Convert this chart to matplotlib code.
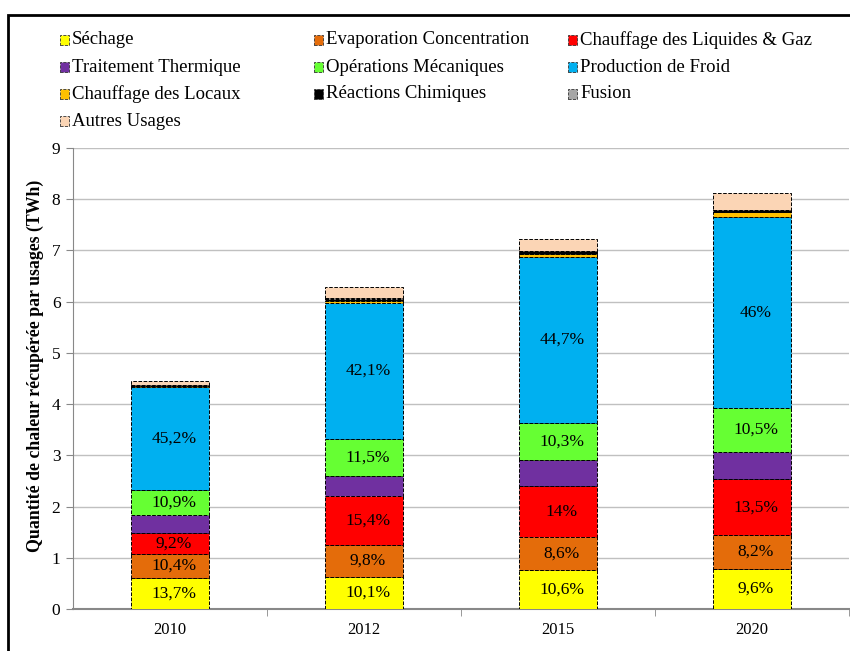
import matplotlib
matplotlib.use('Agg')
import matplotlib.pyplot as plt
from matplotlib.patches import Rectangle
import numpy as np

plt.rcParams['font.family'] = ['Liberation Serif', 'DejaVu Serif']

years = ['2010', '2012', '2015', '2020']

# TWh per usage
sechage = [0.61, 0.63, 0.77, 0.79]
evaporation = [0.47, 0.62, 0.63, 0.65]
chauffage_liq = [0.40, 0.96, 1.00, 1.09]
traitement = [0.36, 0.39, 0.50, 0.54]
operations = [0.48, 0.72, 0.74, 0.85]
froid = [2.02, 2.66, 3.24, 3.73]
locaux = [0.02, 0.04, 0.06, 0.10]
chimiques = [0.01, 0.04, 0.04, 0.03]
fusion = [0.0, 0.01, 0.01, 0.01]
autres = [0.08, 0.21, 0.23, 0.33]

# percentage labels shown inside the bars
lbl_sechage = ['13,7%', '10,1%', '10,6%', '9,6%']
lbl_evaporation = ['10,4%', '9,8%', '8,6%', '8,2%']
lbl_chauffage_liq = ['9,2%', '15,4%', '14%', '13,5%']
lbl_operations = ['10,9%', '11,5%', '10,3%', '10,5%']
lbl_froid = ['45,2%', '42,1%', '44,7%', '46%']
no_lbl = ['', '', '', '']

series = [
    ('Séchage', sechage, '#FFFF00', lbl_sechage),
    ('Evaporation Concentration', evaporation, '#E46C0A', lbl_evaporation),
    ('Chauffage des Liquides & Gaz', chauffage_liq, '#FF0000', lbl_chauffage_liq),
    ('Traitement Thermique', traitement, '#7030A0', no_lbl),
    ('Opérations Mécaniques', operations, '#66FF33', lbl_operations),
    ('Production de Froid', froid, '#00B0F0', lbl_froid),
    ('Chauffage des Locaux', locaux, '#FFC000', no_lbl),
    ('Réactions Chimiques', chimiques, '#000000', no_lbl),
    ('Fusion', fusion, '#A6A6A6', no_lbl),
    ('Autres Usages', autres, '#FBD5B5', no_lbl),
]

W, H = 850, 651
fig = plt.figure(figsize=(W / 100, H / 100), dpi=100)
ax = fig.add_axes([73 / W, (H - 609) / H, (849 - 73) / W, (609 - 148) / H])

x = np.arange(len(years))
bottom = np.zeros(len(years))
for name, vals, col, lbls in series:
    vals = np.array(vals)
    ax.bar(x, vals, 0.4, bottom=bottom, color=col, edgecolor='black',
           linestyle='--', linewidth=0.7, zorder=3)
    for i, t in enumerate(lbls):
        if t:
            ax.text(x[i] + 0.02, bottom[i] + vals[i] / 2, t, ha='center', va='center',
                    fontsize=12.5, zorder=4)
    bottom += vals

ax.set_xlim(-0.5, 3.5)
ax.set_ylim(0, 9)
ax.set_yticks(range(10))
ax.set_xticks(x)
ax.set_xticklabels(years, fontsize=12)
ax.set_xticks([0.5, 1.5, 2.5, 3.5], minor=True)
ax.tick_params(axis='x', which='major', length=0, pad=9)
ax.tick_params(axis='x', which='minor', length=5, color='#888888')
ax.tick_params(axis='y', labelsize=12.5, length=5, color='#888888', pad=4)
ax.yaxis.grid(True, color='#C0C0C0', linewidth=1, zorder=0)
ax.set_axisbelow(True)
for s in ['top', 'right']:
    ax.spines[s].set_visible(False)
for s in ['left', 'bottom']:
    ax.spines[s].set_color('#888888')
ax.spines['bottom'].set_linewidth(1.5)
ax.set_ylabel('Quantité de chaleur récupérée par usages (TWh)', fontsize=12.8,
              fontweight='bold')
ax.yaxis.set_label_coords(-0.038, 0.527)

# legend laid out row by row, 3 columns
col_x = [60, 314, 568]
row_y = [40, 67, 94, 121]
for k, (name, vals, col, lbls) in enumerate(series):
    r, c = divmod(k, 3)
    mx, my = col_x[c], row_y[r]
    fig.add_artist(Rectangle((mx / W, 1 - (my + 5) / H), 9 / W, 10 / H,
                             facecolor=col, edgecolor='#333333', linestyle='--',
                             linewidth=0.6, transform=fig.transFigure))
    fig.text((mx + 12) / W, 1 - my / H, name, fontsize=13.5, va='center', ha='left')

# outer frame
fig.add_artist(Rectangle((8 / W, -0.1), 1.2, 1 - 15 / H + 0.1, fill=False,
                         edgecolor='black', linewidth=2, transform=fig.transFigure))

fig.savefig('out.png', dpi=100)
